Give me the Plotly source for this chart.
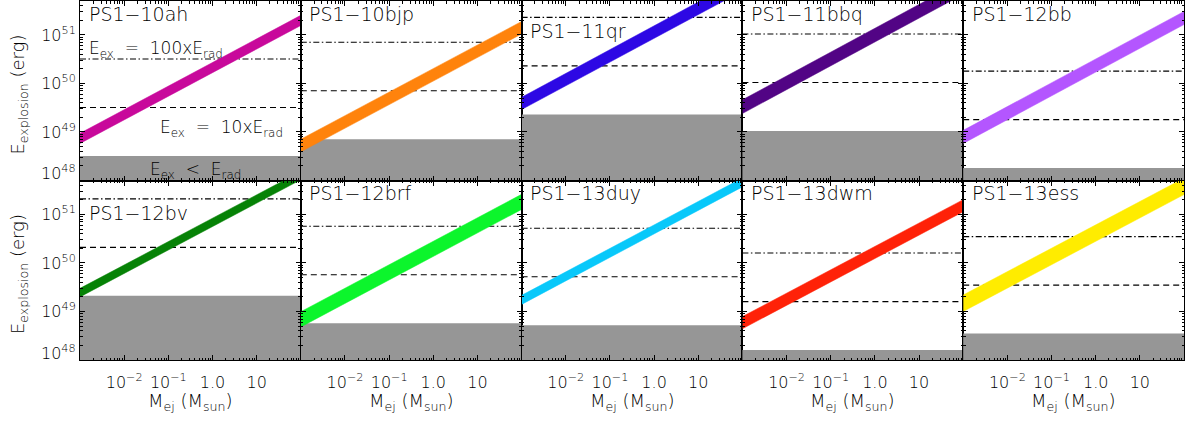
import plotly.graph_objects as go
from plotly.subplots import make_subplots

# ---------------- data ----------------
names = ["PS1−10ah", "PS1−10bjp", "PS1−11qr", "PS1−11bbq", "PS1−12bb",
         "PS1−12bv", "PS1−12brf", "PS1−13duy", "PS1−13dwm", "PS1−13ess"]
colors = ["#C8099B", "#FF830C", "#2D08E4", "#520485", "#B456FF",
          "#068206", "#0CF52C", "#08C8FA", "#FF2208", "#FFEC00"]
# radiated energy (erg): top of grey area
e_rad = [3.2e48, 7.1e48, 2.3e49, 1.05e49, 1.8e48,
         2.1e49, 5.7e48, 5.2e48, 1.6e48, 3.5e48]
# explosion-energy band: lower / upper edge at the smallest and the largest ejecta mass
band_lo_min = [5.8e48, 3.9e48, 2.9e49, 2.4e49, 5.8e48, 2.0e49, 4.8e48, 1.4e49, 4.4e48, 1.0e49]
band_hi_min = [9.4e48, 7.1e48, 5.2e49, 4.6e49, 1.08e49, 3.0e49, 9.9e48, 2.15e49, 7.85e48, 2.19e49]
band_lo_max = [1.57e51, 1.05e51, 8.1e51, 6.9e51, 1.64e51, 5.2e51, 1.27e51, 3.7e51, 1.14e51, 2.57e51]
band_hi_max = [2.54e51, 1.9e51, 1.48e52, 1.32e52, 3.05e51, 7.7e51, 2.6e51, 5.65e51, 2.02e51, 5.6e51]
M_MIN, M_MAX = 1e-3, 1e2          # ejecta mass range (M_sun)
E_FLOOR = 1e46                    # bottom of grey area (below axis range)

x_tickvals = [1e-3, 1e-2, 1e-1, 1, 10, 100]
x_ticktext = ["", "10<sup>−2</sup>", "10<sup>−1</sup>", "1.0", "10", ""]
y_tickvals = [1e48, 1e49, 1e50, 1e51]
y_ticktext = ["", "10<sup>49</sup>", "10<sup>50</sup>", "10<sup>51</sup>"]
x_minor = [k * 10.0 ** d for d in range(-3, 2) for k in range(2, 10)]
y_minor = [k * 10.0 ** d for d in range(48, 52) for k in range(2, 10)]

FONT = "DejaVu Sans"
W = 200  # light weight (falls back to regular if unavailable)


def fnt(size):
    return dict(family=FONT, size=size, color="black", weight=W)


fig = make_subplots(rows=2, cols=5, horizontal_spacing=0, vertical_spacing=0)

for i in range(10):
    r, c = i // 5 + 1, i % 5 + 1
    er = e_rad[i]
    # grey area E_ex < E_rad
    fig.add_trace(go.Scatter(x=[M_MIN / 10, M_MAX * 10, M_MAX * 10, M_MIN / 10],
                             y=[E_FLOOR, E_FLOOR, er, er], mode="lines", fill="toself",
                             fillcolor="#969696", line=dict(width=0), hoverinfo="skip"),
                  row=r, col=c)
    # 10 x E_rad (dashed)
    fig.add_trace(go.Scatter(x=[M_MIN, M_MAX], y=[10 * er, 10 * er], mode="lines",
                             line=dict(color="black", width=1.1, dash="6px,4px")),
                  row=r, col=c)
    # 100 x E_rad (dash-dot)
    fig.add_trace(go.Scatter(x=[M_MIN, M_MAX], y=[100 * er, 100 * er], mode="lines",
                             line=dict(color="black", width=1.1, dash="6px,2.5px,1.5px,2.5px")),
                  row=r, col=c)
    # explosion energy band
    fig.add_trace(go.Scatter(x=[M_MIN, M_MAX, M_MAX, M_MIN],
                             y=[band_lo_min[i], band_lo_max[i], band_hi_max[i], band_hi_min[i]],
                             mode="lines", fill="toself", fillcolor=colors[i],
                             line=dict(width=0.5, color=colors[i])),
                  row=r, col=c)

    fig.update_xaxes(row=r, col=c, type="log", range=[-3, 2], showline=True, linecolor="black",
                     linewidth=1, mirror="allticks", ticks="inside", ticklen=5, tickcolor="black",
                     tickmode="array", tickvals=x_tickvals, ticktext=x_ticktext,
                     showgrid=False, zeroline=False, showticklabels=(r == 2),
                     tickfont=fnt(16), ticklabelstandoff=8,
                     minor=dict(tickmode="array", tickvals=x_minor, ticks="inside", ticklen=2.5,
                                tickcolor="black", showgrid=False))
    fig.update_yaxes(row=r, col=c, type="log", range=[48, 51.7], showline=True, linecolor="black",
                     linewidth=1, mirror="allticks", ticks="inside", ticklen=5, tickcolor="black",
                     tickmode="array", tickvals=y_tickvals, ticktext=y_ticktext,
                     showgrid=False, zeroline=False, showticklabels=(c == 1),
                     tickfont=fnt(16),
                     minor=dict(tickmode="array", tickvals=y_minor, ticks="inside", ticklen=2.5,
                                tickcolor="black", showgrid=False))

ann = []
label_y = [0.928, 0.928, 0.833, 0.928, 0.928, 0.819, 0.928, 0.928, 0.928, 0.928]
for i in range(10):
    ax = "" if i == 0 else str(i + 1)
    ann.append(dict(text=names[i], xref=f"x{ax} domain", yref=f"y{ax} domain", x=0.03,
                    y=label_y[i], xanchor="left", yanchor="middle", showarrow=False,
                    font=fnt(19)))

# texts in first panel
for txt, x, y, xa in [("E<sub>ex</sub> &nbsp;=&nbsp; 100xE<sub>rad</sub>", 0.03, 0.73, "left"),
                      ("E<sub>ex</sub> &nbsp;=&nbsp; 10xE<sub>rad</sub>", 0.93, 0.29, "right"),
                      ("E<sub>ex</sub> &nbsp;&lt;&nbsp; E<sub>rad</sub>", 0.525, 0.058, "center")]:
    ann.append(dict(text=txt, xref="x domain", yref="y domain", x=x, y=y, xanchor=xa,
                    yanchor="middle", showarrow=False, font=fnt(17)))

# y-axis titles and lowest tick labels
for ya in ["y", "y6"]:
    ann.append(dict(text="E<sub>explosion</sub> (erg)", xref="paper", yref=f"{ya} domain",
                    x=-0.055, y=0.48, xanchor="center", yanchor="middle", textangle=-90,
                    showarrow=False, font=fnt(18)))
    ann.append(dict(text="10<sup>48</sup>", xref="paper", yref=ya, x=-0.002, y=48.16,
                    xanchor="right", yanchor="middle", showarrow=False, font=fnt(16)))

# x-axis titles
for c in range(5):
    ax = str(6 + c)
    ann.append(dict(text="M<sub>ej</sub> (M<sub>sun</sub>)", xref=f"x{ax} domain",
                    yref=f"y{ax} domain", x=0.5, y=-0.235, xanchor="center", yanchor="middle",
                    showarrow=False, font=fnt(18)))

fig.update_layout(width=1185, height=422, margin=dict(l=80, r=1, t=1, b=62),
                  plot_bgcolor="white", paper_bgcolor="white", showlegend=False,
                  annotations=ann, font=dict(family=FONT, color="black"))

fig.write_html("out.html", config={"displayModeBar": False},
               post_script="document.body.style.margin='0';")
